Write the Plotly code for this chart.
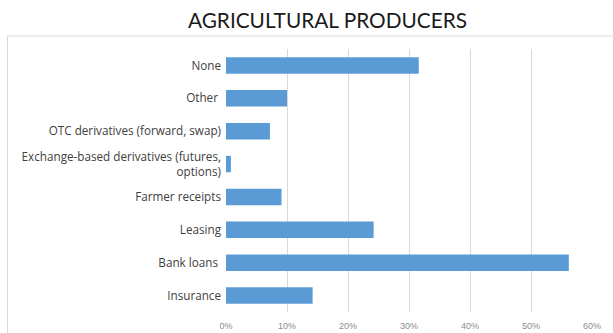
import plotly.graph_objects as go

categories = ["Insurance", "Bank loans ", "Leasing", "Farmer receipts",
              "Exchange-based derivatives (futures,<br>options)",
              "OTC derivatives (forward, swap)", "Other ", "None"]
values = [0.142, 0.562, 0.242, 0.091, 0.008, 0.072, 0.100, 0.316]
tick_vals = [0, 0.1, 0.2, 0.3, 0.4, 0.5, 0.6]
tick_text = ["0%", "10%", "20%", "30%", "40%", "50%", "60%"]

W, H = 613, 333
L, R, T, B = 226, 21, 48.5, 20.5
pw, ph = W - L - R, H - T - B

def px_x(x):
    return (x - L) / pw

def px_y(y):
    return (H - B - y) / ph

fig = go.Figure(go.Bar(
    y=categories, x=values, orientation="h",
    marker=dict(color="#5B9BD5", line=dict(width=0)),
    width=0.5,
))

fig.update_layout(
    width=W, height=H,
    margin=dict(l=L, r=R, t=T, b=B, autoexpand=False),
    paper_bgcolor="white", plot_bgcolor="white",
    showlegend=False,
    title=dict(text="AGRICULTURAL PRODUCERS", x=327.5 / W, xanchor="center",
               y=1 - 21 / H, yanchor="middle", yref="container",
               font=dict(family="Lato", size=20.8, color="#1a1a1a")),
    xaxis=dict(range=[0, 0.6], tickvals=tick_vals, ticktext=tick_text,
               showgrid=True, gridcolor="#d9d9d9", gridwidth=1,
               zeroline=False, showline=False, ticks="", automargin=False,
               ticklabelstandoff=7,
               tickfont=dict(family="Liberation Sans", size=9, color="#8c8c8c")),
    yaxis=dict(range=[-0.5, 7.5], showgrid=False, zeroline=False,
               showline=False, ticks="", ticklabelstandoff=4, automargin=False,
               tickfont=dict(family="Open Sans", size=11.7, color="#404040")),
    shapes=[dict(type="rect", xref="paper", yref="paper",
                 x0=px_x(7.5), x1=px_x(640), y0=px_y(360), y1=px_y(35.5),
                 line=dict(color="#d9d9d9", width=1), fillcolor="rgba(0,0,0,0)",
                 layer="below")],
)

fig.write_html("out.html")
